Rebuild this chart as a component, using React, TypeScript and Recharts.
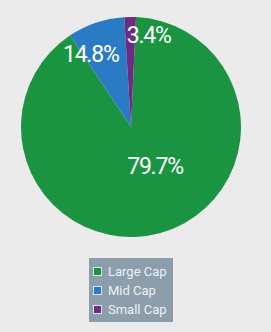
import React from "react";
import { PieChart, Pie, Cell, Legend } from "recharts";

const categories = ["Large Cap", "Mid Cap", "Small Cap"];
// slice sizes as drawn in the picture (share of the circle)
const sliceShares = [89.9, 8.4, 1.7];
// printed labels on the slices
const labelTexts = ["79.7%", "14.8%", "3.4%"];
const colors = ["#1b9442", "#2b7bc4", "#6d2c83"];

const data = categories.map((name, i) => ({ name, value: sliceShares[i], label: labelTexts[i] }));

// label placement (polar, relative to pie center): distance and angle in degrees
const labelRadius = [46, 83, 93];
const labelAngle = [-58.5, 119, 79];

const renderLabel = (props: any) => {
  const { cx, cy, index } = props;
  const a = (labelAngle[index] * Math.PI) / 180;
  const x = cx + labelRadius[index] * Math.cos(a);
  const y = cy - labelRadius[index] * Math.sin(a);
  return (
    <text
      x={x}
      y={y}
      fill="#ffffff"
      textAnchor="middle"
      dominantBaseline="central"
      fontFamily="Roboto, sans-serif"
      fontSize={23}
      letterSpacing={-1.2}
    >
      {data[index].label}
    </text>
  );
};

const renderLegend = () => (
  <div
    style={{
      width: 84,
      height: 64,
      background: "#8c9dac",
      boxSizing: "border-box",
      padding: "4px 0 0 4px",
      fontFamily: "Roboto, sans-serif",
      fontSize: 13,
      color: "#eef2f5",
    }}
  >
    {categories.map((c, i) => (
      <div key={c} style={{ display: "flex", alignItems: "center", height: 19 }}>
        <span
          style={{
            display: "inline-block",
            width: 7,
            height: 7,
            background: colors[i],
            border: "1px solid #dfe6ec",
            marginRight: 6,
          }}
        />
        <span>{c}</span>
      </div>
    ))}
  </div>
);

export default function App() {
  return (
    <div style={{ position: "absolute", left: 0, top: 0, width: 271, height: 332, background: "#ebebeb" }}>
      <PieChart width={271} height={332} margin={{ top: 0, right: 0, bottom: 0, left: 0 }}>
        <Pie
          data={data}
          dataKey="value"
          nameKey="name"
          cx={131}
          cy={127}
          outerRadius={110}
          startAngle={87.4}
          endAngle={-272.6}
          stroke="none"
          label={renderLabel}
          labelLine={false}
          isAnimationActive={false}
        >
          {data.map((d, i) => (
            <Cell key={d.name} fill={colors[i]} />
          ))}
        </Pie>
        <Legend content={renderLegend} wrapperStyle={{ left: 89, top: 258, width: 84, height: 64 }} />
      </PieChart>
    </div>
  );
}
